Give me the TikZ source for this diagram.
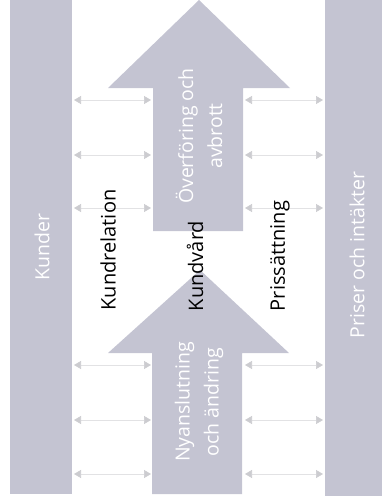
\documentclass[tikz,border=0pt]{standalone}
\usepackage{fontspec}
\setmainfont{Open Sans}
\usetikzlibrary{arrows.meta}

\begin{document}
\begin{tikzpicture}[x=1pt,y=-1pt,
		block/.style={fill=blockgray,draw=none,inner sep=0pt},
		blocktext/.style={text=white,font=\fontsize{19.5}{29}\selectfont,rotate=90,align=center},
		label/.style={text=black,font=\fontsize{20}{24}\selectfont,rotate=90},
		link/.style={draw=linkgray,line width=.6pt,{Triangle[length=7pt,width=8pt,color=headgray,fill=headgray]}-{Triangle[length=7pt,width=8pt,color=headgray,fill=headgray]},shorten <=2pt,shorten >=2pt}]
		\definecolor{blockgray}{RGB}{196,196,210}
		\definecolor{linkgray}{RGB}{226,226,228}
		\definecolor{headgray}{RGB}{204,204,208}
		\useasboundingbox (0,0) rectangle (382,503);
		% Kunder
		\fill[blockgray] (10,0) rectangle (72,494);
		\node[blocktext] (kunder) at (42,247) {Kunder};
		% Priser
		\fill[blockgray] (325,0) rectangle (382,496);
		\node[blocktext] (priser) at (357,255) {Priser och intäkter};
		% pil uppe
		\fill[blockgray] (199,0) -- (290,88) -- (243,88) -- (243,231) -- (153,231) -- (153,88) -- (108,88) -- cycle;
		\node[blocktext] (overforing) at (199,136) {Överföring och\\avbrott};
		% pil nere
		\fill[blockgray] (200,270) -- (289,353) -- (242,353) -- (242,494) -- (152,494) -- (152,353) -- (108,353) -- cycle;
		\node[blocktext] (nyanslutning) at (199,402) {Nyanslutning\\och ändring};
		% kanter
		\coordinate (kE) at (72,0);
		\coordinate (uW) at (153,0);
		\coordinate (uE) at (243,0);
		\coordinate (pW) at (325,0);
		% pilar
		\foreach \y in {100,155,208,365,420,474} {
			\draw[link] (kE |- 0,\y) -- (uW |- 0,\y);
			\draw[link] (uE |- 0,\y) -- (pW |- 0,\y);
		}
		% labels
		\node[label] (kundrelation) at (108,250) {Kundrelation};
		\node[label] (kundvard) at (195,266) {Kundvård};
		\node[label] (prissattning) at (280,256) {Prissättning};
\end{tikzpicture}
\end{document}
